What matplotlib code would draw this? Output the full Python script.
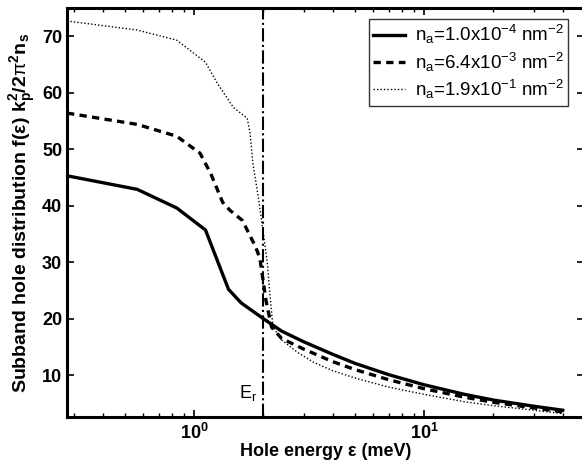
import matplotlib
matplotlib.use("Agg")
import matplotlib.pyplot as plt
from matplotlib.ticker import LogLocator, FixedLocator, NullFormatter

plt.rcParams['font.family'] = ['Liberation Sans', 'DejaVu Sans']
plt.rcParams['mathtext.fontset'] = 'custom'
plt.rcParams['mathtext.rm'] = 'Liberation Sans'
plt.rcParams['mathtext.it'] = 'Liberation Sans:italic'
plt.rcParams['mathtext.bf'] = 'Liberation Sans:bold'

# Data
e_solid = [0.28, 0.565, 0.84, 1.12, 1.41, 1.6, 2.0, 2.4, 3.0, 4.0, 5.0, 7.0, 10.0, 15.0, 20.0, 30.0, 40.0]
f_solid = [45.3, 42.9, 39.6, 35.7, 25.2, 22.8, 20.0, 17.8, 15.9, 13.7, 12.1, 10.1, 8.3, 6.6, 5.6, 4.5, 3.8]

e_dash = [0.28, 0.565, 0.84, 1.06, 1.18, 1.33, 1.43, 1.62, 1.85, 1.93, 2.05, 2.17, 2.4, 3.0, 4.0, 5.0, 7.0, 10.0, 15.0, 20.0, 30.0, 40.0]
f_dash = [56.4, 54.4, 52.3, 49.3, 45.7, 40.6, 39.2, 37.4, 32.7, 30.7, 23.3, 18.5, 16.5, 14.6, 12.4, 11.0, 9.2, 7.6, 6.1, 5.2, 4.2, 3.5]

e_dot = [0.28, 0.565, 0.84, 1.12, 1.26, 1.48, 1.70, 1.75, 1.80, 1.90, 1.99, 2.08, 2.14, 2.20, 2.41, 2.80, 3.3, 4.0, 5.0, 7.0, 10.0, 15.0, 20.0, 30.0, 40.0]
f_dot = [72.7, 71.1, 69.3, 65.4, 61.7, 57.4, 55.5, 52.8, 47.5, 41.5, 35.7, 29.8, 23.8, 18.5, 16.2, 14.1, 12.3, 10.8, 9.5, 7.9, 6.6, 5.3, 4.6, 3.8, 3.2]

E_r = 2.0
labels = [r"n$_{\rm a}$=1.0x10$^{-4}$ nm$^{-2}$",
          r"n$_{\rm a}$=6.4x10$^{-3}$ nm$^{-2}$",
          r"n$_{\rm a}$=1.9x10$^{-1}$ nm$^{-2}$"]

fig = plt.figure(figsize=(5.82, 4.63), dpi=100)
ax = fig.add_axes([67/582, 46/463, 517/582, 409/463])

ax.plot(e_solid, f_solid, color='black', lw=2.4, ls='-', label=labels[0])
ax.plot(e_dash, f_dash, color='black', lw=2.4, ls=(0, (2.2, 1.6)), label=labels[1])
ax.plot(e_dot, f_dot, color='black', lw=1.0, ls=(0, (1, 1.5)), label=labels[2])
ax.axvline(E_r, color='black', lw=1.5, ls='-.')
ax.text(1.72, 5.0, r"E$_{\rm r}$", fontsize=13, ha='center', va='bottom')

ax.set_xscale('log')
ax.set_xlim(0.28, 49.5)
ax.set_ylim(2.6, 75)
ax.set_yticks([10, 20, 30, 40, 50, 60, 70])
ax.xaxis.set_major_locator(FixedLocator([1, 10]))
ax.xaxis.set_minor_locator(LogLocator(base=10, subs=range(2, 10)))
ax.xaxis.set_minor_formatter(NullFormatter())
ax.set_xticklabels([r"$\mathbf{10^0}$", r"$\mathbf{10^1}$"])

ax.tick_params(which='both', direction='in', top=True, right=True, labelsize=13)
ax.tick_params(which='major', length=5, width=1.2)
ax.tick_params(which='minor', length=3, width=1.0)
ax.tick_params(axis='x', pad=4)
for lab in ax.get_yticklabels():
    lab.set_fontweight('bold')
for sp in ax.spines.values():
    sp.set_linewidth(2.2)

ax.set_xlabel("Hole energy ε (meV)", fontsize=13, fontweight='bold', labelpad=0)
ax.set_ylabel(r"Subband hole distribution f(ε) k$_\mathbf{p}^\mathbf{2}$/2$\mathrm{\pi}^\mathbf{2}$n$_\mathbf{s}$",
              fontsize=14, fontweight='bold', labelpad=3)

leg = ax.legend(loc='upper right', fontsize=13.5, frameon=True, fancybox=False,
                edgecolor='black', handlelength=1.7, handletextpad=0.5,
                labelspacing=0.22, borderpad=0.25, bbox_to_anchor=(0.988, 0.997))
leg.get_frame().set_linewidth(1.0)

fig.savefig("out.png", dpi=100)
